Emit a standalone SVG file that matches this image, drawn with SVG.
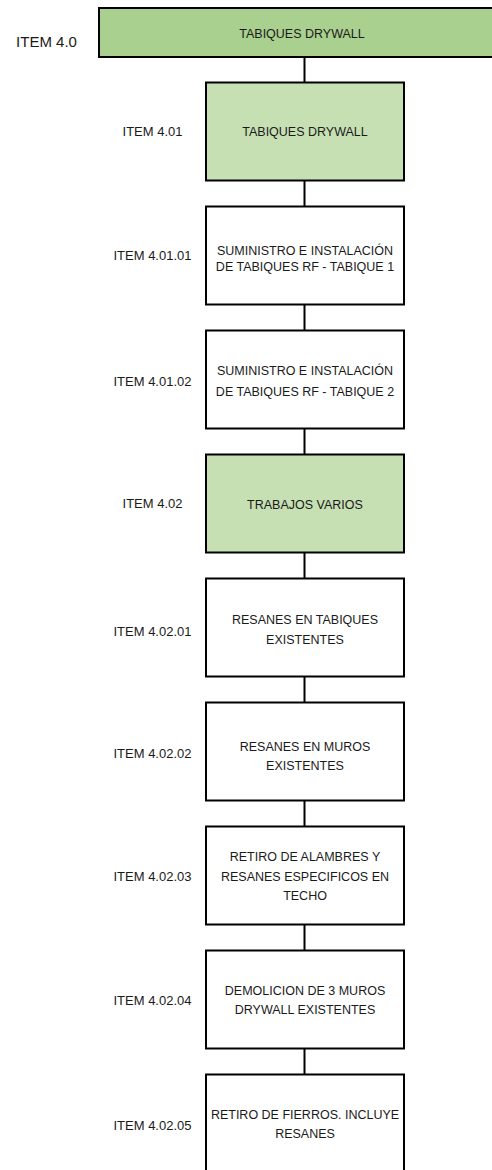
<svg xmlns="http://www.w3.org/2000/svg" width="492" height="1170" viewBox="0 0 492 1170">
<style>
.box{stroke:#000;stroke-width:2}
.w{fill:#fff}
.g{fill:#C6E0B4}
.g0{fill:#A9D08E}
.t{font-family:"Liberation Sans",Arial,sans-serif;font-size:12.5px;fill:#1a1a1a;text-anchor:middle}
.l{font-family:"Liberation Sans",Arial,sans-serif;font-size:13px;fill:#1a1a1a;text-anchor:middle}
.conn line{stroke:#000;stroke-width:2}
</style>
<rect width="492" height="1170" fill="#fff"/>
<g id="connectors" class="conn">
<line x1="304.5" y1="57" x2="304.5" y2="82.5"/>
<line x1="304.5" y1="180.5" x2="304.5" y2="206.5"/>
<line x1="304.5" y1="304.5" x2="304.5" y2="330.5"/>
<line x1="304.5" y1="428.5" x2="304.5" y2="454.5"/>
<line x1="304.5" y1="552.5" x2="304.5" y2="578.5"/>
<line x1="304.5" y1="676.5" x2="304.5" y2="702.5"/>
<line x1="304.5" y1="800.5" x2="304.5" y2="826.5"/>
<line x1="304.5" y1="924.5" x2="304.5" y2="950.5"/>
<line x1="304.5" y1="1048.5" x2="304.5" y2="1074.5"/>
</g>
<g id="item-4-0">
<rect class="box g0" x="99" y="8" width="400" height="49"/>
<text class="t" x="302" y="37.5">TABIQUES DRYWALL</text>
<text x="46.5" y="47" font-family="Liberation Sans, Arial, sans-serif" font-size="15" fill="#1a1a1a" text-anchor="middle">ITEM 4.0</text>
</g>
<g id="item-4-01">
<rect class="box g" x="206" y="82.5" width="198" height="98"/>
<text class="t" x="305" y="136">TABIQUES DRYWALL</text>
<text class="l" x="152.5" y="136.3">ITEM 4.01</text>
</g>
<g id="item-4-01-01">
<rect class="box w" x="206" y="206.5" width="198" height="98"/>
<text class="t" x="305" y="255">SUMINISTRO E INSTALACIÓN</text>
<text class="t" x="305" y="270.5">DE TABIQUES RF - TABIQUE 1</text>
<text class="l" x="152.5" y="259.6">ITEM 4.01.01</text>
</g>
<g id="item-4-01-02">
<rect class="box w" x="206" y="330.5" width="198" height="98"/>
<text class="t" x="305" y="375.3">SUMINISTRO E INSTALACIÓN</text>
<text class="t" x="305" y="396">DE TABIQUES RF - TABIQUE 2</text>
<text class="l" x="152.5" y="386">ITEM 4.01.02</text>
</g>
<g id="item-4-02">
<rect class="box g" x="206" y="454.5" width="198" height="98"/>
<text class="t" x="305" y="509.3">TRABAJOS VARIOS</text>
<text class="l" x="152.5" y="508.3">ITEM 4.02</text>
</g>
<g id="item-4-02-01">
<rect class="box w" x="206" y="578.5" width="198" height="98"/>
<text class="t" x="305" y="623.5">RESANES EN TABIQUES</text>
<text class="t" x="305" y="643.5">EXISTENTES</text>
<text class="l" x="152.5" y="636">ITEM 4.02.01</text>
</g>
<g id="item-4-02-02">
<rect class="box w" x="206" y="702.5" width="198" height="98"/>
<text class="t" x="305" y="751.2">RESANES EN MUROS</text>
<text class="t" x="305" y="770.2">EXISTENTES</text>
<text class="l" x="152.5" y="758">ITEM 4.02.02</text>
</g>
<g id="item-4-02-03">
<rect class="box w" x="206" y="826.5" width="198" height="98"/>
<text class="t" x="305" y="861.2">RETIRO DE ALAMBRES Y</text>
<text class="t" x="305" y="880.5">RESANES ESPECIFICOS EN</text>
<text class="t" x="305" y="900.2">TECHO</text>
<text class="l" x="152.5" y="881.3">ITEM 4.02.03</text>
</g>
<g id="item-4-02-04">
<rect class="box w" x="206" y="950.5" width="198" height="98"/>
<text class="t" x="305" y="995.2">DEMOLICION DE 3 MUROS</text>
<text class="t" x="305" y="1013.8">DRYWALL EXISTENTES</text>
<text class="l" x="152.5" y="1004.5">ITEM 4.02.04</text>
</g>
<g id="item-4-02-05">
<rect class="box w" x="206" y="1074.5" width="198" height="110"/>
<text class="t" x="305" y="1118.5">RETIRO DE FIERROS. INCLUYE</text>
<text class="t" x="305" y="1137.8">RESANES</text>
<text class="l" x="152.5" y="1129.6">ITEM 4.02.05</text>
</g>
</svg>
